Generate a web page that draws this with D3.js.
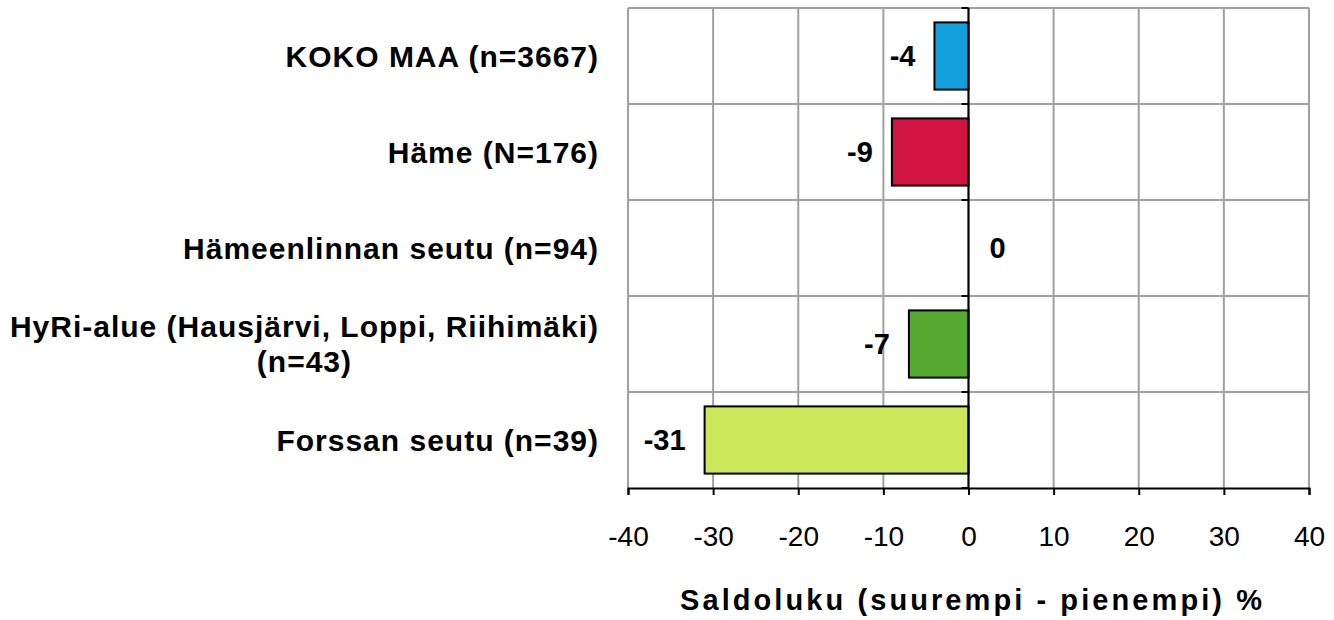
<!DOCTYPE html>
<html>
<head>
<meta charset="utf-8">
<script src="https://cdn.jsdelivr.net/npm/d3@7"></script>
<style>
  body { margin: 0; background: #fff; }
  text { font-family: "Liberation Sans", Arial, sans-serif; fill: #000; }
</style>
</head>
<body>
<div id="chart"></div>
<script>
// categories are lists of lines so the long one can wrap
var categories = [
    ["KOKO MAA (n=3667)"],
    ["Häme (N=176)"],
    ["Hämeenlinnan seutu (n=94)"],
    ["HyRi-alue (Hausjärvi, Loppi, Riihimäki)", "(n=43)"],
    ["Forssan seutu (n=39)"]
];
var values = [-4, -9, 0, -7, -31];
var barColors = ["#119fdb", "#d01340", "#d01340", "#56a930", "#cde75b"];
var xTicks = [-40, -30, -20, -10, 0, 10, 20, 30, 40];
var xTitle = "Saldoluku (suurempi - pienempi) %";

var W = 1334, H = 620;
var plot = {left: 628, right: 1309, top: 8, bottom: 488};

var svg = d3.select("#chart")
    .append("svg")
    .attr("width", W)
    .attr("height", H);

var x = d3.scaleLinear()
    .domain([-40, 40])
    .range([plot.left, plot.right]);

var keys = categories.map(function(c, i) { return i; });
var y = d3.scaleBand()
    .domain(keys)
    .range([plot.top, plot.bottom])
    .paddingInner(0.3)
    .paddingOuter(0.15);

var grid = "#a0a0a0";

// vertical gridlines
svg.append("g")
    .selectAll("line")
    .data(xTicks)
    .enter()
    .append("line")
    .attr("x1", function(d) { return x(d); })
    .attr("x2", function(d) { return x(d); })
    .attr("y1", plot.top)
    .attr("y2", plot.bottom)
    .style("stroke", grid)
    .style("stroke-width", 2);

// horizontal gridlines at band boundaries
var bounds = keys.map(function(k) { return y(k) - y.step() * y.paddingInner() / 2; });
bounds = bounds.map(function(b, i) { return i === 0 ? plot.top : b; });
svg.append("g")
    .selectAll("line")
    .data(bounds)
    .enter()
    .append("line")
    .attr("x1", plot.left)
    .attr("x2", plot.right)
    .attr("y1", function(d) { return d; })
    .attr("y2", function(d) { return d; })
    .style("stroke", grid)
    .style("stroke-width", 2);

// bars
svg.append("g")
    .selectAll("rect")
    .data(values)
    .enter()
    .append("rect")
    .attr("x", function(d) { return x(Math.min(0, d)); })
    .attr("y", function(d, i) { return y(i); })
    .attr("width", function(d) { return Math.abs(x(d) - x(0)); })
    .attr("height", y.bandwidth())
    .style("fill", function(d, i) { return barColors[i]; })
    .style("stroke", function(d) { return d === 0 ? "none" : "#000"; })
    .style("stroke-width", 2);

// zero axis with ticks at band boundaries
var yAxisG = svg.append("g")
    .attr("transform", `translate(${x(0)}, 0)`);
yAxisG.append("line")
    .attr("y1", plot.top)
    .attr("y2", plot.bottom)
    .style("stroke", "#000")
    .style("stroke-width", 2);
yAxisG.selectAll(".tk")
    .data(bounds.concat([plot.bottom]))
    .enter()
    .append("line")
    .attr("x1", -7)
    .attr("x2", 0)
    .attr("y1", function(d) { return d; })
    .attr("y2", function(d) { return d; })
    .style("stroke", "#000")
    .style("stroke-width", 2);

// bottom axis
var xAxis = svg.append("g")
    .attr("transform", `translate(0, ${plot.bottom})`)
    .call(d3.axisBottom(x).tickValues(xTicks).tickSize(7).tickPadding(31).tickFormat(d3.format("d")));
xAxis.select(".domain").style("stroke", "#000").style("stroke-width", 2);
xAxis.selectAll(".tick line").style("stroke", "#000").style("stroke-width", 2);
xAxis.selectAll(".tick text")
    .style("font-family", '"Liberation Sans", Arial, sans-serif')
    .style("font-size", "28px")
    .attr("fill", "#000")
    .text(function(d) { return d < 0 ? "-" + Math.abs(d) : d; });

// value labels
svg.append("g")
    .selectAll("text")
    .data(values)
    .enter()
    .append("text")
    .attr("x", function(d) { return d < 0 ? x(d) - 19 : x(d) + 21; })
    .attr("y", function(d, i) { return y(i) + y.bandwidth() / 2; })
    .attr("dy", "0.35em")
    .attr("text-anchor", function(d) { return d < 0 ? "end" : "start"; })
    .style("font-size", "29px")
    .style("font-weight", "bold")
    .text(function(d) { return d; });

// category labels, multi-line ones centred within their block
var labelRight = 599;
var lineH = 35;
categories.forEach(function(lines, i) {
    var cy = y(i) + y.bandwidth() / 2;
    var g = svg.append("g");
    var ts = lines.map(function(line, j) {
        return g.append("text")
            .attr("y", cy + (j - (lines.length - 1) / 2) * lineH)
            .attr("dy", "0.35em")
            .style("font-size", "30px")
            .style("font-weight", "bold")
            .style("letter-spacing", "1px")
            .text(line);
    });
    var widths = ts.map(function(t) { return t.node().getComputedTextLength(); });
    var maxW = d3.max(widths);
    ts.forEach(function(t) {
        t.attr("x", labelRight - maxW / 2).attr("text-anchor", "middle");
    });
});

// axis title
svg.append("text")
    .attr("x", 680)
    .attr("y", 610)
    .attr("textLength", 582)
    .attr("lengthAdjust", "spacing")
    .style("font-size", "29px")
    .style("font-weight", "bold")
    .text(xTitle);
</script>
</body>
</html>
